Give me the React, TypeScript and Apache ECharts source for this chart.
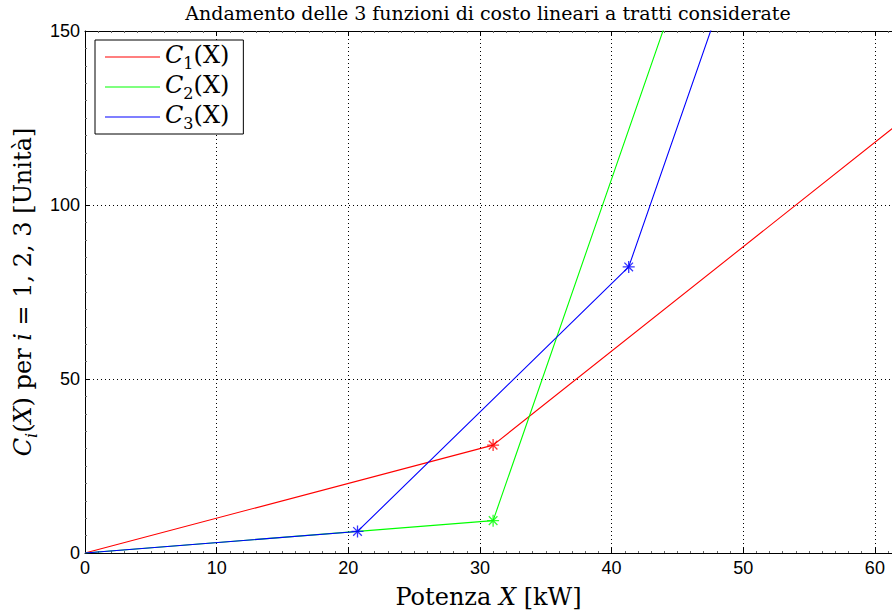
import React, { useEffect, useRef } from "react";
import * as echarts from "echarts";

const seriesNames = ["C1(X)", "C2(X)", "C3(X)"];
const seriesSubs = ["1", "2", "3"];
const seriesColors = ["#ff0000", "#00ff00", "#0000ff"];

const c1X = [0, 31, 62];
const c1Y = [0, 31, 124];
const c2X = [0, 31, 45];
const c2Y = [0, 9.3, 162];
const c3X = [0, 20.7, 41.3, 50];
const c3Y = [0, 6.2, 82.2, 177];

const c1MarkX = [31];
const c1MarkY = [31];
const c2MarkX = [31];
const c2MarkY = [9.3];
const c3MarkX = [20.7, 41.3];
const c3MarkY = [6.2, 82.2];

const titleText = "Andamento delle 3 funzioni di costo lineari a tratti considerate";

const SERIF = "'DejaVu Serif', 'Liberation Serif', serif";
const SANS = "'Liberation Sans', Arial, sans-serif";
const ASTERISK =
  "path://M0,-5L0,5M-5,0L5,0M-3.6,-3.6L3.6,3.6M-3.6,3.6L3.6,-3.6";

const BIG = 24;
const SUB = 16;

function zip(xs: number[], ys: number[]) {
  return xs.map((x, i) => [x, ys[i]]);
}

const richBig = (italic: boolean) => ({
  fontFamily: SERIF,
  fontSize: BIG,
  fontStyle: italic ? "italic" : "normal",
  verticalAlign: "top",
  color: "#000",
});
const richSub = {
  fontFamily: SERIF,
  fontSize: SUB,
  verticalAlign: "top",
  padding: [12, 0, 0, 0],
  color: "#000",
};

export default function App() {
  const ref = useRef<HTMLDivElement>(null);
  useEffect(() => {
    if (!ref.current) return;
    const chart = echarts.init(ref.current, undefined, { renderer: "svg" });
    const lines = [zip(c1X, c1Y), zip(c2X, c2Y), zip(c3X, c3Y)];
    const marks = [
      zip(c1MarkX, c1MarkY),
      zip(c2MarkX, c2MarkY),
      zip(c3MarkX, c3MarkY),
    ];
    const series: any[] = [];
    lines.forEach((d, i) => {
      series.push({
        name: seriesNames[i],
        type: "line",
        data: d,
        symbol: "none",
        clip: true,
        lineStyle: { color: seriesColors[i], width: 1.1 },
        itemStyle: { color: seriesColors[i] },
        z: 3 + i,
      });
    });
    marks.forEach((d, i) => {
      series.push({
        name: "m" + i,
        type: "scatter",
        data: d,
        symbol: ASTERISK,
        symbolSize: 12,
        itemStyle: {
          color: "none",
          borderColor: seriesColors[i],
          borderWidth: 1.3,
        },
        z: 10,
      });
    });
    const minor = {
      show: true,
      splitNumber: 10,
      length: 2,
      lineStyle: { color: "#666" },
    };
    const axisLine = { lineStyle: { color: "#000", width: 1 } };
    const axisTick = { inside: true, length: 5, lineStyle: { color: "#000" } };
    const splitLine = {
      show: true,
      lineStyle: { color: "#000", type: [1, 3], width: 1 },
    };
    chart.setOption({
      animation: false,
      backgroundColor: "#fff",
      grid: { left: 85, top: 31, right: 0, bottom: 61 },
      graphic: [
        {
          type: "text",
          x: 488,
          y: 3,
          style: {
            text: titleText,
            textAlign: "center",
            fontFamily: SERIF,
            fontSize: 19,
            fill: "#000",
          },
        },
      ],
      legend: {
        data: seriesNames,
        orient: "vertical",
        left: 95,
        top: 40,
        backgroundColor: "#fff",
        borderColor: "#000",
        borderWidth: 1,
        borderRadius: 0,
        padding: [3, 14, 3, 10],
        itemGap: 2,
        itemWidth: 55,
        itemHeight: 1,
        icon: "rect",
        formatter: (name: string) => {
          const i = seriesNames.indexOf(name);
          return "{c|C}{s|" + seriesSubs[i] + "}{n|(X)}";
        },
        textStyle: {
          padding: [0, 0, 0, 0],
          rich: {
            c: richBig(true),
            s: richSub,
            n: richBig(false),
          },
        },
      },
      xAxis: [
        {
          type: "value",
          min: 0,
          max: 61.3,
          interval: 10,
          axisLine,
          axisTick,
          splitLine,
          minorTick: minor,
          axisLabel: {
            fontFamily: SANS,
            fontSize: 18,
            color: "#000",
            margin: 6,
          },
          name: "{n|Potenza }{it|X}{n| [kW]}",
          nameLocation: "middle",
          nameGap: 32,
          nameTextStyle: {
            rich: {
              n: { fontFamily: SERIF, fontSize: BIG, color: "#000" },
              it: {
                fontFamily: SERIF,
                fontSize: BIG,
                fontStyle: "italic",
                color: "#000",
              },
            },
          },
        },
        {
          type: "value",
          position: "top",
          min: 0,
          max: 61.3,
          interval: 10,
          axisLine,
          axisTick,
          minorTick: minor,
          axisLabel: { show: false },
          splitLine: { show: false },
        },
      ],
      yAxis: {
        type: "value",
        min: 0,
        max: 150,
        interval: 50,
        axisLine,
        axisTick,
        splitLine,
        minorTick: minor,
        axisLabel: {
          fontFamily: SANS,
          fontSize: 18,
          color: "#000",
          margin: 5,
        },
        name: "{it|C}{sub|i}{n|(}{it|X}{n|) per }{it|i}{n| = 1, 2, 3 [Unità]}",
        nameLocation: "middle",
        nameGap: 40,
        nameTextStyle: {
          rich: {
            it: richBig(true),
            n: richBig(false),
            sub: { ...richSub, fontStyle: "italic" },
          },
        },
      },
      series,
    });
    return () => chart.dispose();
  }, []);
  return (
    <div
      ref={ref}
      style={{ position: "fixed", left: 0, top: 0, width: 892, height: 614 }}
    />
  );
}
